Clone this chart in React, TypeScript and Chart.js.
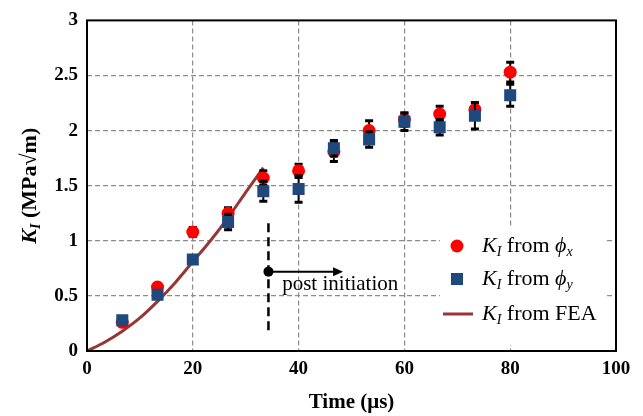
import React, { useEffect, useRef } from 'react';
import { Chart, registerables } from 'chart.js';

Chart.register(...registerables);

// ---- data ----
const timeUs = [6.67, 13.33, 20, 26.67, 33.33, 40, 46.67, 53.33, 60, 66.67, 73.33, 80];
const kFromPhiX = [0.26, 0.58, 1.08, 1.25, 1.57, 1.635, 1.81, 2.0, 2.1, 2.15, 2.19, 2.53];
const kFromPhiXErr = [0.03, 0.03, 0.04, 0.05, 0.065, 0.06, 0.09, 0.09, 0.06, 0.07, 0.06, 0.09];
const kFromPhiY = [0.28, 0.51, 0.83, 1.17, 1.45, 1.47, 1.84, 1.92, 2.08, 2.03, 2.135, 2.32];
const kFromPhiYErr = [0.02, 0.02, 0.03, 0.07, 0.09, 0.12, 0.07, 0.07, 0.08, 0.07, 0.12, 0.1];
const feaTime = [0, 3.33, 6.67, 10, 13.33, 16.67, 20, 23.33, 26.67, 30, 33.33];
const feaK = [0, 0.08, 0.18, 0.3, 0.45, 0.62, 0.81, 1.0, 1.21, 1.44, 1.665];
const xRange = [0, 100];
const yRange = [0, 3];
const xStep = 20;
const yStep = 0.5;
const initiationTime = 34.3;
const initiationLineK = [0.17, 1.16];
const initiationDotK = 0.72;
const arrowEndTime = 48.4;
const annotationText = 'post initiation';
const annotationTextPos = [36.9, 0.55];

const SERIF = '"Liberation Serif", "Times New Roman", "DejaVu Serif", serif';
const RED = '#FF0000';
const BLUE = '#1F497D';
const FEA = '#953735';

function drawRich(ctx: CanvasRenderingContext2D, parts: { t: string; font: string; dy?: number }[], x: number, y: number) {
  let cx = x;
  for (const p of parts) {
    ctx.font = p.font;
    ctx.fillText(p.t, cx, y + (p.dy || 0));
    cx += ctx.measureText(p.t).width;
  }
  return cx - x;
}
function richWidth(ctx: CanvasRenderingContext2D, parts: { t: string; font: string }[]) {
  let w = 0;
  for (const p of parts) { ctx.font = p.font; w += ctx.measureText(p.t).width; }
  return w;
}

const errorBarPlugin = {
  id: 'errorBars',
  beforeDatasetDraw(chart: any, args: any) {
    const ds = chart.data.datasets[args.index];
    if (!ds.errors) return;
    const { ctx } = chart;
    const xs = chart.scales.x, ys = chart.scales.y;
    ctx.save();
    ctx.strokeStyle = '#000';
    ds.data.forEach((p: any, i: number) => {
      const e = ds.errors[i];
      const px = xs.getPixelForValue(p.x);
      const yt = ys.getPixelForValue(p.y + e);
      const yb = ys.getPixelForValue(p.y - e);
      ctx.lineWidth = 2;
      ctx.beginPath();
      ctx.moveTo(px, yt); ctx.lineTo(px, yb); ctx.stroke();
      ctx.lineWidth = 3;
      ctx.beginPath();
      ctx.moveTo(px - 4, yt); ctx.lineTo(px + 4, yt);
      ctx.moveTo(px - 4, yb); ctx.lineTo(px + 4, yb);
      ctx.stroke();
    });
    ctx.restore();
  },
};

const decorPlugin = {
  id: 'decor',
  afterDatasetsDraw(chart: any) {
    const { ctx, chartArea: a } = chart;
    const xs = chart.scales.x, ys = chart.scales.y;
    ctx.save();
    // initiation dashed line
    const ix = xs.getPixelForValue(initiationTime);
    ctx.strokeStyle = '#000';
    ctx.lineWidth = 2.5;
    ctx.setLineDash([9, 5]);
    ctx.beginPath();
    ctx.moveTo(ix, ys.getPixelForValue(initiationLineK[1]));
    ctx.lineTo(ix, ys.getPixelForValue(initiationLineK[0]));
    ctx.stroke();
    ctx.setLineDash([]);
    // arrow
    const dy = ys.getPixelForValue(initiationDotK);
    const ax = xs.getPixelForValue(arrowEndTime);
    ctx.lineWidth = 2;
    ctx.beginPath();
    ctx.moveTo(ix, dy); ctx.lineTo(ax - 8, dy); ctx.stroke();
    ctx.fillStyle = '#000';
    ctx.beginPath();
    ctx.moveTo(ax, dy); ctx.lineTo(ax - 10, dy - 4.5); ctx.lineTo(ax - 10, dy + 4.5); ctx.closePath(); ctx.fill();
    ctx.beginPath();
    ctx.arc(ix, dy, 5, 0, Math.PI * 2); ctx.fill();
    // text
    ctx.font = `21px ${SERIF}`;
    ctx.textBaseline = 'alphabetic';
    ctx.textAlign = 'left';
    ctx.fillText(annotationText, xs.getPixelForValue(annotationTextPos[0]), ys.getPixelForValue(annotationTextPos[1]));

    // legend
    const lx0 = 440, ly0 = 226, lx1 = 606, ly1 = 345;
    ctx.fillStyle = '#fff';
    ctx.fillRect(lx0, ly0, lx1 - lx0, ly1 - ly0);
    const mx = 457, tx = 482;
    const rows = [246, 279, 314];
    ctx.fillStyle = RED;
    ctx.beginPath(); ctx.arc(mx, rows[0], 6.5, 0, Math.PI * 2); ctx.fill();
    ctx.fillStyle = BLUE;
    ctx.fillRect(mx - 6, rows[1] - 6, 12, 12);
    ctx.strokeStyle = FEA; ctx.lineWidth = 3;
    ctx.beginPath(); ctx.moveTo(443, rows[2]); ctx.lineTo(473, rows[2]); ctx.stroke();
    ctx.fillStyle = '#000';
    ctx.textBaseline = 'middle';
    const it = `italic 22px ${SERIF}`, rg = `22px ${SERIF}`, sub = `italic 14px ${SERIF}`;
    drawRich(ctx, [{ t: 'K', font: it }, { t: 'I', font: sub, dy: 6 }, { t: ' from ', font: rg }, { t: 'ϕ', font: it }, { t: 'x', font: sub, dy: 6 }], tx, rows[0]);
    drawRich(ctx, [{ t: 'K', font: it }, { t: 'I', font: sub, dy: 6 }, { t: ' from ', font: rg }, { t: 'ϕ', font: it }, { t: 'y', font: sub, dy: 6 }], tx, rows[1]);
    drawRich(ctx, [{ t: 'K', font: it }, { t: 'I', font: sub, dy: 6 }, { t: ' from FEA', font: rg }], tx, rows[2]);

    // frame
    ctx.strokeStyle = '#000';
    ctx.lineWidth = 2;
    ctx.strokeRect(a.left, a.top, a.right - a.left, a.bottom - a.top);

    // axis titles
    ctx.fillStyle = '#000';
    ctx.textBaseline = 'middle';
    ctx.font = `bold 21px ${SERIF}`;
    ctx.textAlign = 'center';
    ctx.fillText('Time (μs)', (a.left + a.right) / 2, 403);

    ctx.textAlign = 'left';
    const yParts = [
      { t: 'K', font: `bold italic 22px ${SERIF}` },
      { t: 'I', font: `bold italic 14px ${SERIF}`, dy: 6 },
      { t: ' (MPa√m)', font: `bold 22px ${SERIF}` },
    ];
    const w = richWidth(ctx, yParts);
    ctx.translate(30, (a.top + a.bottom) / 2);
    ctx.rotate(-Math.PI / 2);
    drawRich(ctx, yParts, -w / 2, 0);
    ctx.restore();
  },
};

export default function App() {
  const ref = useRef<HTMLCanvasElement>(null);
  useEffect(() => {
    document.body.style.margin = '0';
    const gridColor = (c: any) => {
      const v = c.tick?.value;
      if (c.scale.axis === 'x') return v === xRange[0] || v === xRange[1] ? 'rgba(0,0,0,0)' : '#8C8C8C';
      return v === yRange[0] || v === yRange[1] ? 'rgba(0,0,0,0)' : '#8C8C8C';
    };
    const chart = new Chart(ref.current!, {
      type: 'scatter',
      data: {
        datasets: [
          {
            label: 'KI from phi_y',
            data: timeUs.map((x, i) => ({ x, y: kFromPhiY[i] })),
            errors: kFromPhiYErr,
            pointStyle: 'rect',
            pointRadius: 8.5,
            backgroundColor: BLUE,
            borderWidth: 0,
            showLine: false,
          } as any,
          {
            label: 'KI from phi_x',
            data: timeUs.map((x, i) => ({ x, y: kFromPhiX[i] })),
            errors: kFromPhiXErr,
            pointStyle: 'circle',
            pointRadius: 6.5,
            backgroundColor: RED,
            borderWidth: 0,
            showLine: false,
          } as any,
          {
            label: 'KI from FEA',
            data: feaTime.map((x, i) => ({ x, y: feaK[i] })),
            showLine: true,
            borderColor: FEA,
            borderWidth: 3,
            pointRadius: 0,
            tension: 0.4,
            cubicInterpolationMode: 'monotone',
          } as any,
        ],
      },
      options: {
        responsive: false,
        animation: false,
        layout: { padding: { top: 17, right: 27, left: 0, bottom: 0 } },
        plugins: { legend: { display: false }, tooltip: { enabled: false } },
        scales: {
          x: {
            type: 'linear',
            min: xRange[0],
            max: xRange[1],
            ticks: { stepSize: xStep, color: '#000', padding: 7, font: { family: SERIF, size: 19, weight: 'bold' }, callback: (v: any) => String(v) },
            grid: { color: gridColor as any, lineWidth: 1.2, drawTicks: false },
            border: { display: false, dash: [5, 3] },
            afterFit: (s: any) => { s.height = 65; },
          },
          y: {
            type: 'linear',
            min: yRange[0],
            max: yRange[1],
            ticks: { stepSize: yStep, color: '#000', padding: 9, font: { family: SERIF, size: 19, weight: 'bold' }, callback: (v: any) => String(Number(v)) },
            grid: { color: gridColor as any, lineWidth: 1.2, drawTicks: false },
            border: { display: false, dash: [5, 3] },
            afterFit: (s: any) => { s.width = 87; },
          },
        },
      } as any,
      plugins: [errorBarPlugin, decorPlugin],
    });
    return () => chart.destroy();
  }, []);
  return (
    <div style={{ width: 643, height: 416 }}>
      <canvas ref={ref} width={643} height={416} />
    </div>
  );
}
